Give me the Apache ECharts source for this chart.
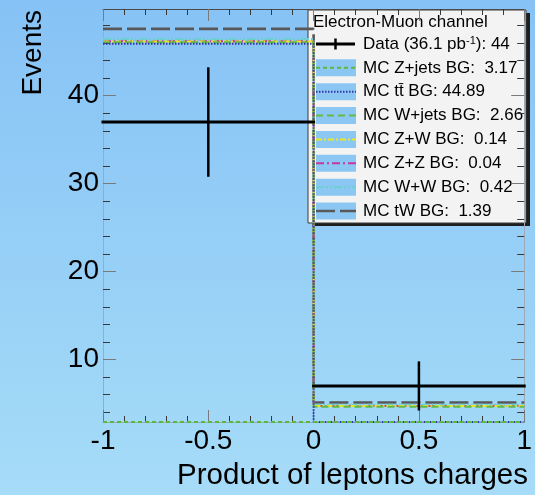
<!DOCTYPE html>
<html>
<head>
<meta charset="utf-8">
<title>Electron-Muon channel: product of lepton charges</title>
<script src="https://cdn.jsdelivr.net/npm/echarts@6/dist/echarts.min.js"></script>
<style>
  html, body { margin: 0; padding: 0; }
  #chart { width: 535px; height: 495px; }
</style>
</head>
<body>
<div id="chart"></div>
<script>
// Histogram bins of the product of the two lepton charges
const binLow = [-1, 0];
const binHigh = [0, 1];

// Observed events (36.1 pb^-1) and their error bars
const dataCounts = [37, 7];
const dataErrors = [6.08, 2.65];

// Monte Carlo backgrounds per bin, stacked in this order
const mcZJets = [1.60, 1.57];
const mcTTbar = [44.30, 0.59];
const mcWJets = [0.18, 2.48];
const mcZW = [0.07, 0.07];
const mcZZ = [0.02, 0.02];
const mcWW = [0.28, 0.14];
const mcTW = [1.14, 0.25];

// Legend texts
const legendTitle = 'Electron-Muon channel';
const dataLabel = 'Data (36.1 pb{sup|-1}): 44';
const mcLabels = [
  'MC Z+jets BG:  3.17',
  'MC tt\u0304 BG: 44.89',
  'MC W+jets BG:  2.66',
  'MC Z+W BG:  0.14',
  'MC Z+Z BG:  0.04',
  'MC W+W BG:  0.42',
  'MC tW BG:  1.39'
];

// Axis ticks
const xTickInterval = 0.5;
const yMajorTicks = [10, 20, 30, 40];
const yMinorTicks = [4, 6, 8, 12, 14, 16, 18, 22, 24, 26, 28, 32, 34, 36, 38, 42, 44, 46, 48];

// ---- styling ----
const FONT = '"Liberation Sans", Arial, Helvetica, sans-serif';
const LEGEND_FONT = '17px ' + FONT;
const Y_MIN = 2.9, Y_MAX = 49.85;
const mcSamples = [mcZJets, mcTTbar, mcWJets, mcZW, mcZZ, mcWW, mcTW];
const mcStyles = [
  { color: '#5cb83a', width: 2, dash: [4, 3] },
  { color: '#3236a8', width: 2, dash: [1.5, 1.5] },
  { color: '#63bb45', width: 2, dash: [7, 4] },
  { color: '#e9e824', width: 2, dash: [6, 2, 2, 2] },
  { color: '#c4399c', width: 2, dash: [8, 3, 2, 3] },
  { color: '#6ccfd0', width: 2, dash: [8, 2, 2, 2, 2, 2] },
  { color: '#585858', width: 2.6, dash: [19, 5] }
];

// Running stack; whatever falls under the frame sits on its floor
const running = binLow.map(() => 0);
const mcSeries = mcSamples.map((vals, k) => {
  vals.forEach((v, i) => { running[i] += v; });
  const lvl = running.map(v => Math.max(Y_MIN, v));
  const st = mcStyles[k];
  return {
    type: 'line',
    name: mcLabels[k],
    step: 'end',
    symbol: 'none',
    silent: true,
    z: 2 + (mcSamples.length - k) * 0.01,
    data: [[binLow[0], lvl[0]], [binLow[1], lvl[1]], [binHigh[1], lvl[1]]],
    lineStyle: { color: st.color, width: st.width, type: st.dash }
  };
});

const dataSeries = {
  type: 'custom',
  name: 'Data',
  z: 5,
  silent: true,
  data: dataCounts.map((c, i) => [binLow[i], binHigh[i], c, dataErrors[i]]),
  encode: { x: [0, 1], y: 2 },
  renderItem: function (params, api) {
    const lo = api.value(0), hi = api.value(1), y = api.value(2), e = api.value(3);
    const mid = (lo + hi) / 2;
    const a = api.coord([lo, y]), b = api.coord([hi, y]);
    const t = api.coord([mid, y + e]), d = api.coord([mid, y - e]);
    return {
      type: 'group',
      children: [
        { type: 'line', shape: { x1: a[0], y1: a[1], x2: b[0], y2: b[1] },
          style: { stroke: '#000', lineWidth: 3, lineCap: 'square' } },
        { type: 'line', shape: { x1: t[0], y1: t[1], x2: d[0], y2: d[1] },
          style: { stroke: '#000', lineWidth: 2.5, lineCap: 'square' } }
      ]
    };
  }
};

// ---- legend box ----
const LX = 308, LY = 10, LW = 218, LH = 213;
const rowY = i => 44 + i * 23.86;
const legendChildren = [
  { type: 'rect', shape: { x: LX + 4, y: LY + 3, width: LW, height: LH }, style: { fill: '#1e1e1e' } },
  { type: 'rect', shape: { x: LX, y: LY, width: LW, height: LH }, style: { fill: '#f3f3f3', stroke: '#3a3a3a', lineWidth: 1 } },
  { type: 'text', x: LX + 5, y: 22.5,
    style: { text: legendTitle, font: LEGEND_FONT, fill: '#000', verticalAlign: 'middle', textAlign: 'left' } },
  // data entry
  { type: 'line', shape: { x1: 316, y1: rowY(0), x2: 355, y2: rowY(0) }, style: { stroke: '#000', lineWidth: 3 } },
  { type: 'line', shape: { x1: 335.5, y1: rowY(0) - 5.5, x2: 335.5, y2: rowY(0) + 5.5 }, style: { stroke: '#000', lineWidth: 2.5 } },
  { type: 'text', x: 363, y: rowY(0),
    style: { text: dataLabel, font: LEGEND_FONT, fill: '#000', verticalAlign: 'middle', textAlign: 'left',
      rich: { sup: { fontSize: 11, fontFamily: FONT, verticalAlign: 'top', fill: '#000' } } } }
];
mcLabels.forEach((lab, k) => {
  const y = rowY(k + 1);
  const st = mcStyles[k];
  legendChildren.push(
    { type: 'rect', shape: { x: 316, y: y - 8.5, width: 40, height: 17 }, style: { fill: '#8cc7f4' } },
    { type: 'line', shape: { x1: 316, y1: y, x2: 356, y2: y },
      style: { stroke: st.color, lineWidth: st.width, lineDash: st.dash } },
    { type: 'text', x: 363, y: y,
      style: { text: lab, font: LEGEND_FONT, fill: '#000', verticalAlign: 'middle', textAlign: 'left' } }
  );
});

const frameLight = '#9eabb7';
const majorTickColor = '#7a7a7a';
const minorTickColor = '#383838';

function xAxisDef(pos, withLabels) {
  return {
    type: 'value', position: pos, min: -1, max: 1, interval: xTickInterval,
    axisLine: { show: true, onZero: false, lineStyle: { color: pos === 'top' ? '#4a4a4a' : frameLight, width: 1 } },
    axisTick: { show: true, inside: true, length: 12, lineStyle: { color: majorTickColor } },
    minorTick: { show: true, splitNumber: 5, length: 6, lineStyle: { color: minorTickColor } },
    axisLabel: { show: withLabels, fontSize: 28, fontFamily: FONT, color: '#000', margin: 5 },
    splitLine: { show: false }, minorSplitLine: { show: false }
  };
}
function yAxisDef(pos, major, withLabels) {
  return {
    type: 'value', position: pos, min: Y_MIN, max: Y_MAX,
    axisLine: { show: major, onZero: false, lineStyle: { color: frameLight, width: 1 } },
    axisTick: { show: true, inside: true, length: major ? 13 : 7,
      customValues: major ? yMajorTicks : yMinorTicks,
      lineStyle: { color: major ? majorTickColor : minorTickColor } },
    axisLabel: { show: withLabels, customValues: yMajorTicks, fontSize: 28, fontFamily: FONT, color: '#000', margin: 4 },
    splitLine: { show: false }
  };
}

const chart = echarts.init(document.getElementById('chart'), null, { renderer: 'canvas' });
chart.setOption({
  animation: false,
  backgroundColor: {
    type: 'linear', x: 0, y: 0, x2: 0, y2: 1,
    colorStops: [{ offset: 0, color: '#86c2f5' }, { offset: 1, color: '#a6dcf8' }]
  },
  grid: { left: 103, right: 6, top: 9, bottom: 73 },
  xAxis: [xAxisDef('bottom', true), xAxisDef('top', false)],
  yAxis: [
    yAxisDef('left', true, true),
    yAxisDef('left', false, false),
    yAxisDef('right', true, false),
    yAxisDef('right', false, false)
  ],
  series: mcSeries.concat([dataSeries]),
  graphic: [
    { type: 'text', x: 528, y: 491,
      style: { text: 'Product of leptons charges', font: '29.5px ' + FONT, fill: '#000', textAlign: 'right', verticalAlign: 'bottom' } },
    { type: 'text', x: 33, y: 10, rotation: Math.PI / 2,
      style: { text: 'Events', font: '28px ' + FONT, fill: '#000', textAlign: 'right', verticalAlign: 'middle' } },
    { type: 'group', z: 100, children: legendChildren }
  ]
});
</script>
</body>
</html>
